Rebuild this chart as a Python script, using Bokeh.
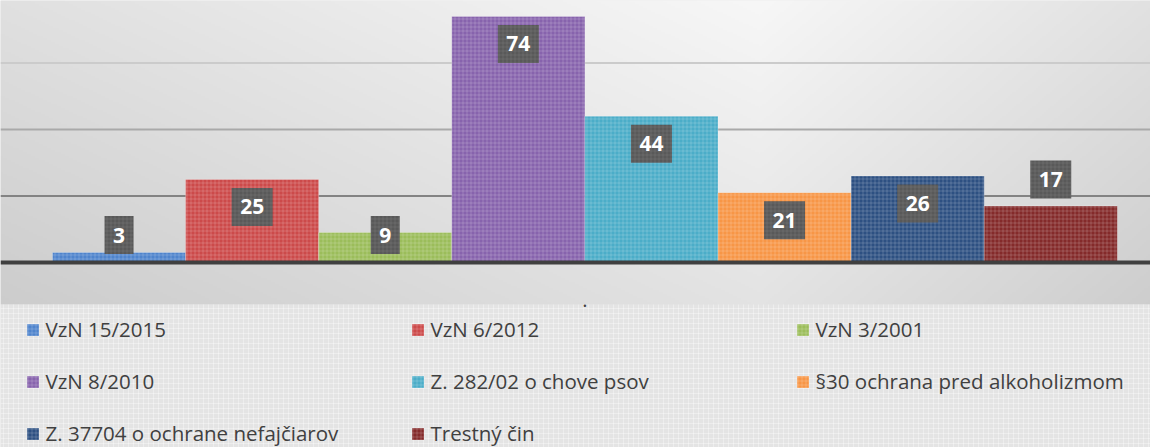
import numpy as np
from bokeh.plotting import figure
from bokeh.models import (Range1d, Span, BoxAnnotation, Legend, LegendItem,
                          ColumnDataSource)
from bokeh.core.properties import value
from bokeh.embed import file_html
from bokeh.resources import INLINE

# ---------------- data ----------------
categories = ["."]
series = ["VzN 15/2015", "VzN 6/2012", "VzN 3/2001", "VzN 8/2010",
          "Z. 282/02 o chove psov", "§30 ochrana pred alkoholizmom",
          "Z. 37704 o ochrane nefajčiarov", "Trestný čin"]
values = [3, 25, 9, 74, 44, 21, 26, 17]
colors = ["#4f84cc", "#cc4a4a", "#9bbd5a", "#8763ad",
          "#4badc8", "#f79646", "#2d5082", "#842a2a"]
grid_ticks = [20, 40, 60]
grid_colors = ["#838383", "#a9a9a9", "#cbcbcb"]
label_above = [False, False, False, False, False, False, False, True]

# ---------------- layout ----------------
FW, FH = 1150, 447
PX_PER_UNIT_Y = 3.325
PX_PER_BAR = 133.1
BASE_FY = 262          # pixel row of the zero line
FIRST_BAR_FX = 52      # pixel column of the left edge of first bar

y_top = BASE_FY / PX_PER_UNIT_Y
y_bot = -(FH - BASE_FY) / PX_PER_UNIT_Y
x_left = -0.5 - FIRST_BAR_FX / PX_PER_BAR
x_right = x_left + FW / PX_PER_BAR


def fy_to_y(fy):
    return (BASE_FY - fy) / PX_PER_UNIT_Y


p = figure(width=FW, height=FH, x_range=Range1d(x_left, x_right),
           y_range=Range1d(y_bot, y_top), output_backend="svg",
           toolbar_location=None, x_axis_location=None, y_axis_location=None,
           min_border=0, min_border_left=0, min_border_right=0,
           min_border_top=0, min_border_bottom=0)
p.grid.visible = False
p.outline_line_color = None
p.background_fill_color = "#e3e3e3"
p.border_fill_color = "#e3e3e3"

# background gradient of the plot area (decoration)
panel_fy = 304
Wd, Hd = 575, 152
px = np.linspace(0, FW, Wd)
rows = np.arange(Hd)
py = panel_fy - (rows + 0.5) * (panel_fy / Hd)
dx = px[None, :] - 760
slope = np.where(dx < 0, 0.030, 0.055)
L = 247 - slope * np.abs(dx) - 0.065 * py[:, None]
L = np.clip(L, 195, 246).astype(np.uint8)
img = np.empty((Hd, Wd), dtype=np.uint32)
view = img.view(dtype=np.uint8).reshape((Hd, Wd, 4))
view[:, :, 0] = L
view[:, :, 1] = L
view[:, :, 2] = L
view[:, :, 3] = 255
bg = p.image_rgba(image=[img], x=x_left, y=fy_to_y(panel_fy),
                  dw=x_right - x_left, dh=y_top - fy_to_y(panel_fy))
bg.level = "image"

# legend panel
p.add_layout(BoxAnnotation(top=fy_to_y(panel_fy), fill_color="#e4e4e4",
                           fill_alpha=1, line_color=None,
                           hatch_pattern="cross", hatch_color="white",
                           hatch_alpha=0.35, hatch_scale=5, hatch_weight=1,
                           level="underlay"))

# grid lines
for t, c in zip(grid_ticks, grid_colors):
    p.add_layout(Span(location=t, dimension="width", line_color=c,
                      line_width=2, level="underlay"))

# bars
xs = list(range(len(series)))
src = ColumnDataSource(dict(x=xs, top=values, color=colors, name=series))
bars = p.vbar(x="x", top="top", bottom=0, width=1, source=src,
              fill_color="color", line_color="white", line_alpha=0.25,
              line_width=1, hatch_pattern="cross", hatch_color="white",
              hatch_alpha=0.18, hatch_scale=4, hatch_weight=1)

# baseline
p.add_layout(Span(location=0, dimension="width", line_color="#404040",
                  line_width=4))

# data labels
off = 27.5 / PX_PER_UNIT_Y
lab_y = []
for v, above in zip(values, label_above):
    if above:
        lab_y.append(v + 26.5 / PX_PER_UNIT_Y)
    else:
        lab_y.append(max(v - off, off))
lab_w = [17 + 12 * len(str(v)) for v in values]
lsrc = ColumnDataSource(dict(x=xs, y=lab_y, w=lab_w,
                             t=[str(v) for v in values]))
p.rect(x="x", y="y", width="w", height=38, width_units="screen",
       height_units="screen", source=lsrc, fill_color="#595959",
       line_color=None, hatch_pattern="cross", hatch_color="white",
       hatch_alpha=0.08, hatch_scale=4)
p.text(x="x", y="y", text="t", source=lsrc, text_color="white",
       text_font=value("Open Sans"), text_font_style="bold",
       text_font_size="21px", text_align="center", text_baseline="middle")

# category label
p.text(x=[(len(series) - 1) / 2], y=[fy_to_y(299)], text=categories,
       text_color="#404040", text_font=value("Open Sans"),
       text_font_size="20px", text_align="center",
       text_baseline="alphabetic")

# legend
items = [LegendItem(label=s, renderers=[bars], index=i)
         for i, s in enumerate(series)]
legend = Legend(items=items, location=(24.5, 0), orientation="horizontal",
                ncols=3, glyph_width=15, glyph_height=15, label_standoff=6,
                label_width=340, spacing=24, padding=0, margin=0,
                border_line_color=None, background_fill_alpha=0,
                label_text_font="Open Sans", label_text_font_size="20.5px",
                label_text_color="#404040")
p.add_layout(legend)

open("out.html", "w").write(file_html(p, INLINE))
